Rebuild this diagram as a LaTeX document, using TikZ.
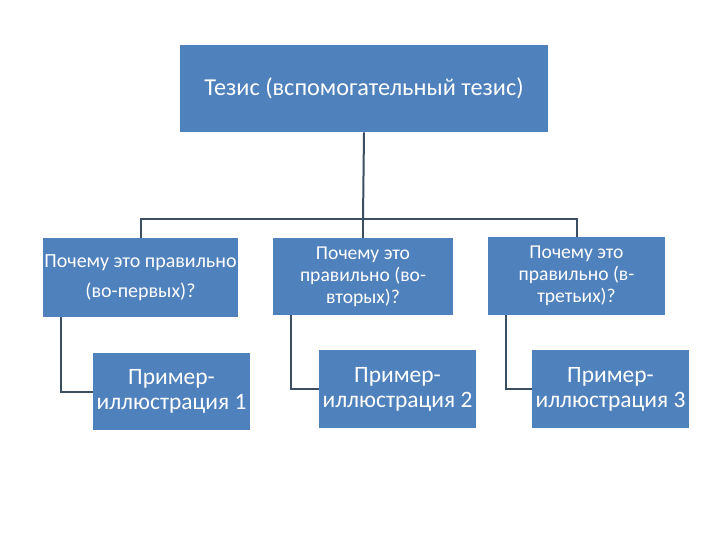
\documentclass[tikz,border=0pt]{standalone}
\usepackage{fontspec}
\setmainfont{Carlito}
\definecolor{boxblue}{HTML}{4F81BD}
\definecolor{linecol}{HTML}{3B4E62}
\begin{document}
\begin{tikzpicture}[x=0.75pt,y=-0.75pt,
  box/.style={fill=boxblue,draw=none,text=white,align=center,inner sep=0pt},
  conn/.style={draw=linecol,line width=1.5pt}]
\useasboundingbox (0,0) rectangle (720,540);
\fill[white] (0,0) rectangle (720,540);
\node[box,minimum width=368*0.75pt,minimum height=87*0.75pt,font=\fontsize{18.2}{21}\selectfont] (top) at (364,88.5) {\raisebox{-2.5pt}{Тезис (вспомогательный тезис)}};
\node[box,minimum width=195*0.75pt,minimum height=79*0.75pt,font=\fontsize{15}{22.5}\selectfont] (b1) at (140.5,277.5) {Почему это правильно\\(во-первых)?};
\node[box,minimum width=180*0.75pt,minimum height=77*0.75pt,font=\fontsize{14.7}{16.5}\selectfont] (b2) at (363,276.5) {Почему это\\правильно (во-\\вторых)?};
\node[box,minimum width=177*0.75pt,minimum height=78*0.75pt,font=\fontsize{14.7}{16.5}\selectfont] (b3) at (576.5,276) {Почему это\\правильно (в-\\третьих)?};
\node[box,minimum width=157*0.75pt,minimum height=77*0.75pt,font=\fontsize{17.6}{18.8}\selectfont] (c1) at (171.5,391.5) {Пример-\\иллюстрация 1};
\node[box,minimum width=157*0.75pt,minimum height=78*0.75pt,font=\fontsize{17.6}{18.8}\selectfont] (c2) at (397.5,389) {Пример-\\иллюстрация 2};
\node[box,minimum width=157*0.75pt,minimum height=78*0.75pt,font=\fontsize{17.6}{18.8}\selectfont] (c3) at (610.5,389) {Пример-\\иллюстрация 3};
\coordinate (bus) at (363,219);
\draw[conn] (top.south) -- (bus);
\draw[conn] (b1.north) -- (b1.north |- bus) -- (b3.north |- bus) -- (b3.north);
\draw[conn] (b2.north) -- (b2.north |- bus);
\draw[conn] ([xshift=18*0.75pt]b1.south west) |- (c1.west);
\draw[conn] ([xshift=18*0.75pt]b2.south west) |- (c2.west);
\draw[conn] ([xshift=18*0.75pt]b3.south west) |- (c3.west);
\end{tikzpicture}
\end{document}
